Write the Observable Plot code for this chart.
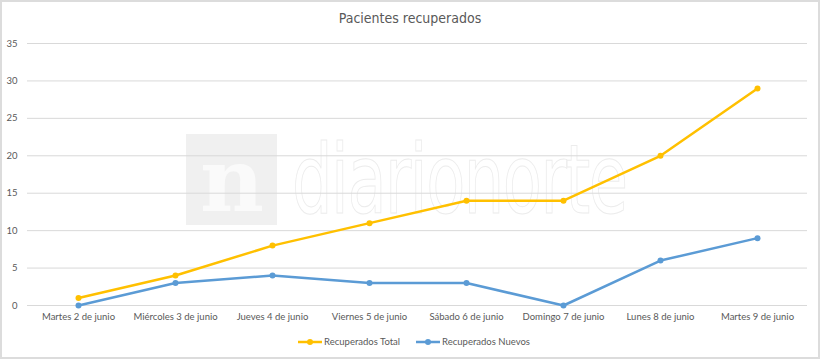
<!DOCTYPE html>
<html>
<head>
<meta charset="utf-8">
<script src="https://cdn.jsdelivr.net/npm/d3@7"></script>
<script src="https://cdn.jsdelivr.net/npm/@observablehq/plot@0.6"></script>
<style>
  html, body { margin: 0; padding: 0; background: #fff; }
  #wrap { position: relative; width: 820px; height: 359px; overflow: hidden; background: #fff; font-family: Lato, "Open Sans", sans-serif; }
  #frame { position: absolute; left: 0; top: 0; width: 820px; height: 359px; box-sizing: border-box; border: 2px solid #dcdcdc; pointer-events: none; z-index: 5; }
  #wm-box { position: absolute; left: 186px; top: 134px; width: 91px; height: 91px; background: #f0f0f0; z-index: 0; }
  #wm-box span { position: absolute; left: 14px; top: -6px; font: bold 88px "DejaVu Serif", serif; color: #fafafa; }
  #wm-text { position: absolute; left: 292px; top: 124px; font: 96px "Liberation Sans Narrow", "DejaVu Sans Condensed", sans-serif; color: #fff; -webkit-text-stroke: 1px #ececec; transform-origin: left top; transform: scaleX(0.74); z-index: 0; white-space: nowrap; letter-spacing: -2px; }
  #title { position: relative; z-index: 2; height: 33px; box-sizing: border-box; padding-top: 9px; text-align: center; font: 14px "Liberation Sans Narrow", "DejaVu Sans Condensed", sans-serif; line-height: 18px; color: #595959; }
  #chart { position: relative; z-index: 2; height: 297px; }
  #legend { position: relative; z-index: 2; height: 29px; display: flex; justify-content: center; align-items: center; gap: 16px; font-size: 9.5px; color: #595959; padding-left: 8px; padding-bottom: 6px; box-sizing: border-box; }
  .item { display: flex; align-items: center; gap: 2px; }
</style>
</head>
<body>
<div id="wrap">
  <div id="wm-box"><span>n</span></div>
  <div id="wm-text">diarionorte</div>
  <div id="title">Pacientes recuperados</div>
  <div id="chart"></div>
  <div id="legend"></div>
  <div id="frame"></div>
</div>
<script>
const days = ["Martes 2 de junio", "Miércoles 3 de junio", "Jueves 4 de junio", "Viernes 5 de junio", "Sábado 6 de junio", "Domingo 7 de junio", "Lunes 8 de junio", "Martes 9 de junio"];
const seriesNames = ["Recuperados Total", "Recuperados Nuevos"];
const total = [1, 4, 8, 11, 14, 14, 20, 29];
const nuevos = [0, 3, 4, 3, 3, 0, 6, 9];
const colors = ["#FFC000", "#5B9BD5"];
const yTicks = [0, 5, 10, 15, 20, 25, 30, 35];

const data = [];
days.forEach((d, i) => {
  data.push({day: d, value: total[i], serie: seriesNames[0]});
});
days.forEach((d, i) => {
  data.push({day: d, value: nuevos[i], serie: seriesNames[1]});
});

const chart = Plot.plot({
  width: 820,
  height: 297,
  marginTop: 10,
  marginLeft: 27,
  marginRight: 13,
  marginBottom: 25,
  style: {fontFamily: "Lato, 'Open Sans', sans-serif", fontSize: "9.5px", color: "#595959", background: "transparent"},
  x: {type: "point", domain: days, padding: 0.5, label: null},
  y: {domain: [0, 35], label: null},
  color: {domain: seriesNames, range: colors},
  marks: [
    Plot.gridY(yTicks, {stroke: "#d9d9d9", strokeOpacity: 1}),
    Plot.axisY(yTicks, {tickSize: 0, tickPadding: 10, label: null, fill: "#595959"}),
    Plot.axisX({tickSize: 0, tickPadding: 8, label: null, fill: "#595959"}),
    Plot.line(data, {x: "day", y: "value", z: "serie", stroke: "serie", strokeWidth: 2.5, curve: "linear"}),
    Plot.dot(data, {x: "day", y: "value", fill: "serie", r: 3})
  ]
});
document.getElementById("chart").appendChild(chart);

const legend = document.getElementById("legend");
seriesNames.forEach((s, i) => {
  const it = document.createElement("div");
  it.className = "item";
  it.innerHTML = `<svg width="24" height="8"><line x1="0" y1="4" x2="24" y2="4" stroke="${colors[i]}" stroke-width="2.5"/><circle cx="12" cy="4" r="3" fill="${colors[i]}"/></svg><span>${s}</span>`;
  legend.appendChild(it);
});
</script>
</body>
</html>
